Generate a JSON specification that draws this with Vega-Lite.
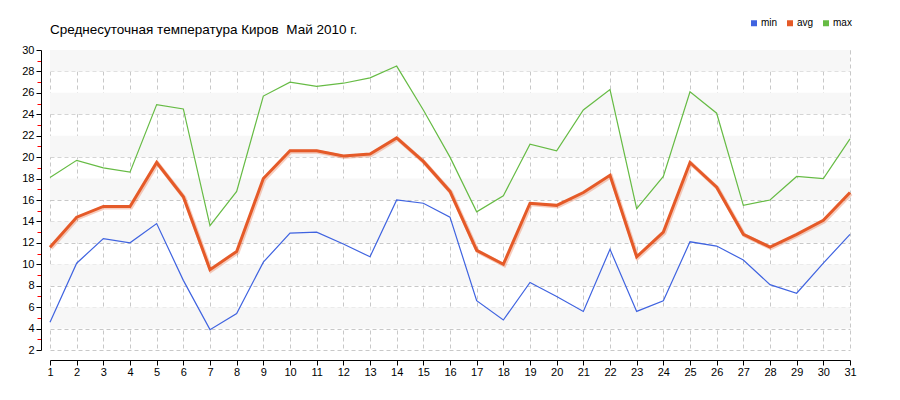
{
  "$schema": "https://vega.github.io/schema/vega-lite/v6.json",
  "width": 800,
  "height": 300,
  "autosize": {"type": "none"},
  "padding": {"left": 50, "top": 50, "right": 50, "bottom": 50},
  "background": "white",
  "title": {"text": "Среднесуточная температура Киров\u00a0 Май 2010 г.", "anchor": "start", "frame": "group", "font": "Liberation Sans", "fontSize": 13.5, "fontWeight": "normal", "color": "#000000", "offset": 0, "dy": 18},
  "config": {"view": {"stroke": null}},
  "datasets": {
    "temps": [
      {"day": 1, "min": 4.6, "avg": 11.6, "max": 18.1},
      {"day": 2, "min": 10.1, "avg": 14.4, "max": 19.7},
      {"day": 3, "min": 12.4, "avg": 15.4, "max": 19.0},
      {"day": 4, "min": 12.0, "avg": 15.4, "max": 18.6},
      {"day": 5, "min": 13.8, "avg": 19.5, "max": 24.9},
      {"day": 6, "min": 8.5, "avg": 16.3, "max": 24.5},
      {"day": 7, "min": 3.9, "avg": 9.5, "max": 13.6},
      {"day": 8, "min": 5.4, "avg": 11.2, "max": 16.8},
      {"day": 9, "min": 10.2, "avg": 18.0, "max": 25.7},
      {"day": 10, "min": 12.9, "avg": 20.6, "max": 27.0},
      {"day": 11, "min": 13.0, "avg": 20.6, "max": 26.6},
      {"day": 12, "min": 11.9, "avg": 20.1, "max": 26.9},
      {"day": 13, "min": 10.7, "avg": 20.3, "max": 27.4},
      {"day": 14, "min": 16.0, "avg": 21.8, "max": 28.5},
      {"day": 15, "min": 15.7, "avg": 19.6, "max": 24.4},
      {"day": 16, "min": 14.4, "avg": 16.8, "max": 20.0},
      {"day": 17, "min": 6.6, "avg": 11.3, "max": 14.9},
      {"day": 18, "min": 4.8, "avg": 10.0, "max": 16.4},
      {"day": 19, "min": 8.3, "avg": 15.7, "max": 21.2},
      {"day": 20, "min": 7.0, "avg": 15.5, "max": 20.6},
      {"day": 21, "min": 5.6, "avg": 16.7, "max": 24.4},
      {"day": 22, "min": 11.4, "avg": 18.3, "max": 26.3},
      {"day": 23, "min": 5.6, "avg": 10.7, "max": 15.2},
      {"day": 24, "min": 6.6, "avg": 13.0, "max": 18.2},
      {"day": 25, "min": 12.1, "avg": 19.5, "max": 26.1},
      {"day": 26, "min": 11.7, "avg": 17.2, "max": 24.1},
      {"day": 27, "min": 10.4, "avg": 12.8, "max": 15.5},
      {"day": 28, "min": 8.1, "avg": 11.6, "max": 16.0},
      {"day": 29, "min": 7.3, "avg": 12.8, "max": 18.2},
      {"day": 30, "min": 10.1, "avg": 14.1, "max": 18.0},
      {"day": 31, "min": 12.8, "avg": 16.7, "max": 21.7}
    ],
    "bands": [
      {"lo": 4, "hi": 6},
      {"lo": 8, "hi": 10},
      {"lo": 12, "hi": 14},
      {"lo": 16, "hi": 18},
      {"lo": 20, "hi": 22},
      {"lo": 24, "hi": 26},
      {"lo": 28, "hi": 30}
    ]
  },
  "layer": [
    {
      "data": {"name": "bands"},
      "mark": {"type": "rect", "color": "#f7f7f7"},
      "encoding": {
        "y": {
          "field": "lo", "type": "quantitative",
          "scale": {"domain": [2, 30], "nice": false, "zero": false},
          "axis": {
            "title": null,
            "values": [2,3,4,5,6,7,8,9,10,11,12,13,14,15,16,17,18,19,20,21,22,23,24,25,26,27,28,29,30],
            "labelExpr": "datum.value % 2 == 0 ? datum.label : ''",
            "labelOverlap": false,
            "tickColor": {"expr": "datum.value % 2 == 0 ? '#000000' : '#ff0000'"},
            "tickSize": {"expr": "datum.value % 2 == 0 ? 5 : 4"},
            "gridOpacity": {"expr": "datum.value % 2 == 0 ? 1 : 0"},
            "grid": true,
            "gridColor": "#c8c8c8",
            "gridDash": [4, 3],
            "domainColor": "#000000",
            "offset": 9,
            "labelFont": "Liberation Sans",
            "labelFontSize": 11,
            "labelColor": "#000000",
            "labelPadding": 2
          }
        },
        "y2": {"field": "hi"}
      }
    },
    {
      "data": {"name": "temps"},
      "transform": [{"fold": ["min", "max", "avg"], "as": ["series", "temp"]}],
      "layer": [
        {
          "transform": [{"filter": "datum.series != 'avg'"}],
          "mark": {"type": "line", "strokeWidth": 1.2}
        },
        {
          "transform": [{"filter": "datum.series == 'avg'"}],
          "mark": {"type": "line", "strokeWidth": 4, "opacity": 0.3, "xOffset": 1, "yOffset": 1}
        },
        {
          "transform": [{"filter": "datum.series == 'avg'"}],
          "mark": {"type": "line", "strokeWidth": 3}
        }
      ],
      "encoding": {
        "x": {
          "field": "day", "type": "quantitative",
          "scale": {"domain": [1, 31], "nice": false, "zero": false},
          "axis": {
            "title": null,
            "values": [1,2,3,4,5,6,7,8,9,10,11,12,13,14,15,16,17,18,19,20,21,22,23,24,25,26,27,28,29,30,31],
            "format": "d",
            "labelFlush": false,
            "labelOverlap": false,
            "grid": true,
            "gridColor": "#c8c8c8",
            "gridDash": [4, 3],
            "domainColor": "#000000",
            "tickColor": "#000000",
            "tickSize": 5,
            "offset": 10,
            "labelFont": "Liberation Sans",
            "labelFontSize": 11,
            "labelColor": "#000000",
            "labelPadding": 1
          }
        },
        "y": {
          "field": "temp", "type": "quantitative",
          "axis": {
            "title": null,
            "values": [2,3,4,5,6,7,8,9,10,11,12,13,14,15,16,17,18,19,20,21,22,23,24,25,26,27,28,29,30],
            "labelExpr": "datum.value % 2 == 0 ? datum.label : ''",
            "labelOverlap": false,
            "tickColor": {"expr": "datum.value % 2 == 0 ? '#000000' : '#ff0000'"},
            "tickSize": {"expr": "datum.value % 2 == 0 ? 5 : 4"},
            "gridOpacity": {"expr": "datum.value % 2 == 0 ? 1 : 0"},
            "grid": true,
            "gridColor": "#c8c8c8",
            "gridDash": [4, 3],
            "domainColor": "#000000",
            "offset": 9,
            "labelFont": "Liberation Sans",
            "labelFontSize": 11,
            "labelColor": "#000000",
            "labelPadding": 2
          }
        },
        "color": {
          "field": "series", "type": "nominal",
          "scale": {"domain": ["min", "avg", "max"], "range": ["#3f63e0", "#e55a28", "#66bb44"]},
          "legend": {
            "title": null, "orient": "none", "direction": "horizontal",
            "legendX": 699, "legendY": -32,
            "symbolType": "square", "symbolSize": 9, "symbolStrokeWidth": 3, "symbolOpacity": 1,
            "labelFont": "Liberation Sans", "labelFontSize": 10, "labelColor": "#000000",
            "columnPadding": 4, "labelOffset": 2
          }
        }
      }
    }
  ]
}
